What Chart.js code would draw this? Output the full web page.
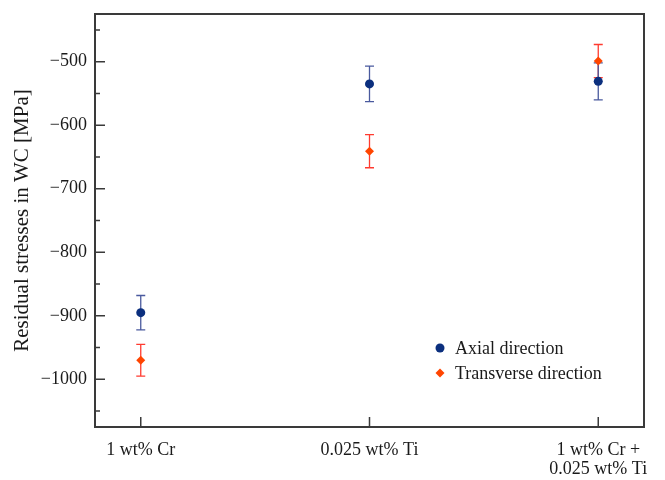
<!DOCTYPE html>
<html>
<head>
<meta charset="utf-8">
<script src="https://cdn.jsdelivr.net/npm/chart.js@4"></script>
<style>
  html, body { margin: 0; padding: 0; background: #fff; }
  #wrap { width: 665px; height: 480px; }
</style>
</head>
<body>
<div id="wrap"><canvas id="chart" width="665" height="480"></canvas></div>
<script>
// Data
const categories = ["1 wt% Cr", "0.025 wt% Ti", ["1 wt% Cr +", "0.025 wt% Ti"]];
const categoryPos = [0, 1, 2];
const axialValues = [-895, -535, -531];
const axialErrors = [27, 28, 29];
const transverseValues = [-970, -641, -499];
const transverseErrors = [25, 26, 26];
const yTickValues = [-1000, -900, -800, -700, -600, -500];

// Styles
const FONT = "'Liberation Serif', 'Times New Roman', serif";
const TEXT = "#1a1a1a";
const AXIS = "#3a3a3a";
const blue = "#0b2f7e";
const blueBar = "#4a5a9e";
const red = "#ff4500";
const redBar = "#ff3b30";

Chart.defaults.font.family = FONT;
Chart.defaults.color = TEXT;

function toPoints(values) {
  return values.map((v, i) => ({ x: categoryPos[i], y: v }));
}

function minus(v) {
  return v < 0 ? "\u2212" + Math.abs(v) : String(v);
}

// error bars, drawn under the markers
const errorBars = {
  id: "errorBars",
  beforeDatasetsDraw(chart) {
    const { ctx, scales } = chart;
    const sets = [
      { values: transverseValues, errors: transverseErrors, color: redBar },
      { values: axialValues, errors: axialErrors, color: blueBar },
    ];
    ctx.save();
    ctx.lineWidth = 1.3;
    for (const s of sets) {
      ctx.strokeStyle = s.color;
      s.values.forEach((v, i) => {
        const x = scales.x.getPixelForValue(categoryPos[i]);
        const top = scales.y.getPixelForValue(v + s.errors[i]);
        const bottom = scales.y.getPixelForValue(v - s.errors[i]);
        ctx.beginPath();
        ctx.moveTo(x, top);
        ctx.lineTo(x, bottom);
        ctx.moveTo(x - 4.5, top);
        ctx.lineTo(x + 4.5, top);
        ctx.moveTo(x - 4.5, bottom);
        ctx.lineTo(x + 4.5, bottom);
        ctx.stroke();
      });
    }
    ctx.restore();
  },
};

// frame box and inward ticks
const frame = {
  id: "frame",
  afterDraw(chart) {
    const { ctx, chartArea: a, scales } = chart;
    ctx.save();
    ctx.strokeStyle = AXIS;
    ctx.lineWidth = 2;
    ctx.strokeRect(a.left, a.top, a.right - a.left, a.bottom - a.top);

    ctx.lineWidth = 1.5;
    ctx.beginPath();
    for (const v of yTickValues) {
      const y = scales.y.getPixelForValue(v);
      ctx.moveTo(a.left, y);
      ctx.lineTo(a.left + 10, y);
      for (const m of [v - 50, v + 50]) {
        if (m > scales.y.min && m < scales.y.max) {
          const ym = scales.y.getPixelForValue(m);
          ctx.moveTo(a.left, ym);
          ctx.lineTo(a.left + 5, ym);
        }
      }
    }
    for (const p of categoryPos) {
      const x = scales.x.getPixelForValue(p);
      ctx.moveTo(x, a.bottom);
      ctx.lineTo(x, a.bottom - 10);
    }
    ctx.stroke();
    ctx.restore();
  },
};

// legend inside the plot, lower right
const insideLegend = {
  id: "insideLegend",
  afterDraw(chart) {
    const { ctx, chartArea: a } = chart;
    ctx.save();
    ctx.font = "18px " + FONT;
    ctx.textBaseline = "middle";
    chart.data.datasets.forEach((ds, i) => {
      const x = a.right - 204;
      const y = a.bottom - 79 + i * 25;
      ctx.fillStyle = ds.backgroundColor;
      ctx.strokeStyle = ds.backgroundColor;
      Chart.helpers.drawPoint(ctx, {
        pointStyle: ds.pointStyle,
        radius: ds.pointRadius,
        borderWidth: 0,
        rotation: 0,
      }, x, y);
      ctx.fillStyle = TEXT;
      ctx.fillText(ds.label, x + 15, y + 1);
    });
    ctx.restore();
  },
};

const config = {
  type: "scatter",
  data: {
    datasets: [
      {
        label: "Axial direction",
        data: toPoints(axialValues),
        pointStyle: "circle",
        pointRadius: 4.5,
        backgroundColor: blue,
        borderColor: blue,
        borderWidth: 0,
      },
      {
        label: "Transverse direction",
        data: toPoints(transverseValues),
        pointStyle: "rectRot",
        pointRadius: 4.5,
        backgroundColor: red,
        borderColor: red,
        borderWidth: 0,
      },
    ],
  },
  options: {
    responsive: false,
    animation: false,
    layout: { padding: { top: 14, right: 21, left: 0, bottom: 0 } },
    plugins: {
      legend: { display: false },
      tooltip: { enabled: false },
    },
    scales: {
      x: {
        type: "linear",
        min: -0.2,
        max: 2.2,
        grid: { display: false, drawTicks: false },
        border: { display: false },
        afterBuildTicks(scale) {
          scale.ticks = categoryPos.map((v) => ({ value: v }));
        },
        afterFit(scale) {
          scale.height = 53;
          scale.paddingLeft = 0;
          scale.paddingRight = 0;
        },
        ticks: {
          padding: 13,
          maxRotation: 0,
          autoSkip: false,
          color: TEXT,
          font: { size: 18, lineHeight: 1.1 },
          callback: (v) => categories[categoryPos.indexOf(v)],
        },
      },
      y: {
        min: -1075,
        max: -425,
        grid: { display: false, drawTicks: false },
        border: { display: false },
        afterBuildTicks(scale) {
          scale.ticks = yTickValues.map((v) => ({ value: v }));
        },
        afterFit(scale) {
          scale.width = 95;
          scale.paddingTop = 0;
          scale.paddingBottom = 0;
        },
        ticks: {
          padding: 8,
          color: TEXT,
          font: { size: 18 },
          callback: (v) => minus(v),
        },
        title: {
          display: true,
          text: "Residual stresses in WC [MPa]",
          color: TEXT,
          font: { size: 21 },
          padding: { top: 10, bottom: 0 },
        },
      },
    },
  },
  plugins: [errorBars, frame, insideLegend],
};

new Chart(document.getElementById("chart"), config);
</script>
</body>
</html>
